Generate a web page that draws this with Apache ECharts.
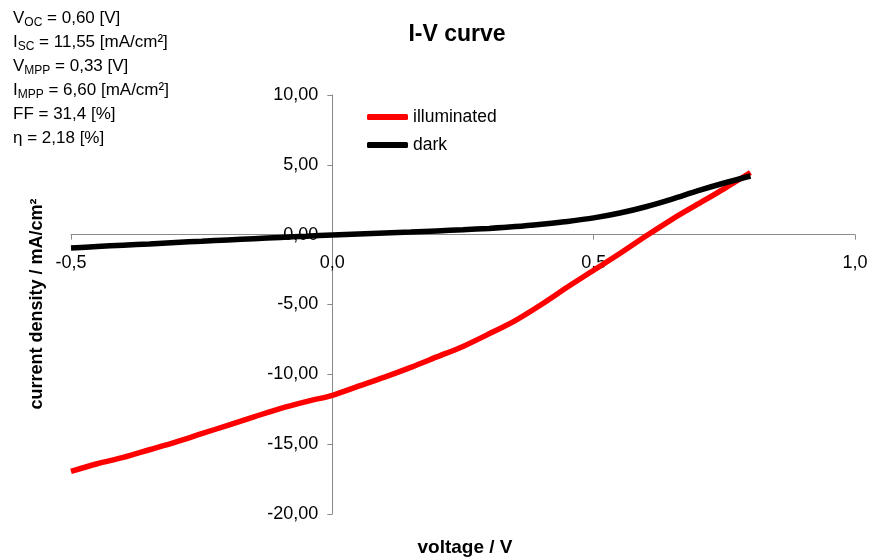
<!DOCTYPE html>
<html>
<head>
<meta charset="utf-8">
<script src="https://cdn.jsdelivr.net/npm/echarts@6/dist/echarts.min.js"></script>
<style>html,body{margin:0;padding:0;background:#fff;}#c{width:871px;height:558px;}</style>
</head>
<body>
<div id="c"></div>
<script>
var voltage = [-0.5,-0.45,-0.4,-0.35,-0.3,-0.25,-0.2,-0.15,-0.1,-0.05,0,0.05,0.1,0.15,0.2,0.25,0.3,0.35,0.4,0.45,0.5,0.55,0.6,0.65,0.7,0.75,0.8];
var illuminated = [-16.95,-16.4,-15.95,-15.4,-14.85,-14.25,-13.65,-13.05,-12.45,-11.95,-11.5,-10.85,-10.2,-9.5,-8.75,-8.0,-7.1,-6.15,-5.0,-3.75,-2.55,-1.35,-0.1,1.1,2.2,3.3,4.45];
var dark = [-0.95,-0.85,-0.75,-0.66,-0.56,-0.47,-0.38,-0.29,-0.2,-0.11,-0.02,0.05,0.12,0.19,0.27,0.35,0.45,0.58,0.75,0.95,1.2,1.55,2.0,2.55,3.15,3.7,4.2];
var xTicks = [-0.5, 0.0, 0.5, 1.0];
var yTicks = [-20, -15, -10, -5, 0, 5, 10];
var seriesNames = ['illuminated', 'dark'];
var annotations = [
  ['V', 'OC', ' = 0,60 [V]'],
  ['I', 'SC', ' = 11,55 [mA/cm²]'],
  ['V', 'MPP', ' = 0,33 [V]'],
  ['I', 'MPP', ' = 6,60 [mA/cm²]'],
  ['FF = 31,4 [%]', '', ''],
  ['η = 2,18 [%]', '', '']
];

function pairs(xs, ys) { return xs.map(function (x, i) { return [x, ys[i]]; }); }

var annText = annotations.map(function (a) {
  var s = '{m|' + a[0] + '}';
  if (a[1]) s += '{s|' + a[1] + '}';
  if (a[2]) s += '{m|' + a[2] + '}';
  return s;
}).join('\n');

var FONT = 'Liberation Sans, Arial, Helvetica, sans-serif';
var GRID = {left: 71, right: 16, top: 95, bottom: 44};
var W = 871, H = 558;
var xMin = xTicks[0], xMax = xTicks[xTicks.length - 1];
var yMin = yTicks[0], yMax = yTicks[yTicks.length - 1];
// offsets that place each axis where the other axis is zero
var gridW = W - GRID.left - GRID.right, gridH = H - GRID.top - GRID.bottom;
var xAxisOffset = -gridH * (0 - yMin) / (yMax - yMin);
var yAxisOffset = -gridW * (0 - xMin) / (xMax - xMin);

var chart = echarts.init(document.getElementById('c'), null, {renderer: 'canvas'});
chart.setOption({
  animation: false,
  backgroundColor: '#ffffff',
  textStyle: {fontFamily: FONT},
  title: {
    text: 'I-V curve', left: 452, top: 18, textAlign: 'center',
    textStyle: {fontFamily: FONT, fontSize: 23, fontWeight: 'bold', color: '#000'}
  },
  grid: {left: GRID.left, right: GRID.right, top: GRID.top, bottom: GRID.bottom, containLabel: false},
  legend: {
    orient: 'vertical', left: 362, top: 103, itemWidth: 41, itemHeight: 6, itemGap: 10,
    icon: 'roundRect',
    data: seriesNames,
    textStyle: {fontFamily: FONT, fontSize: 17.5, color: '#000', lineHeight: 18}
  },
  xAxis: {
    type: 'value', min: xMin, max: xMax, interval: 0.5, position: 'bottom', offset: xAxisOffset,
    axisLine: {onZero: false, lineStyle: {color: '#8a8a8a', width: 1}},
    axisTick: {show: true, length: 5, lineStyle: {color: '#8a8a8a'}},
    axisLabel: {margin: 19, fontSize: 18, color: '#000', fontFamily: FONT,
      formatter: function (v) { return v.toFixed(1).replace('.', ','); }},
    splitLine: {show: false}
  },
  yAxis: {
    type: 'value', min: yMin, max: yMax, interval: 5, position: 'left', offset: yAxisOffset,
    axisLine: {show: true, onZero: false, lineStyle: {color: '#8a8a8a', width: 1}},
    axisTick: {show: true, length: 5, lineStyle: {color: '#8a8a8a'}},
    axisLabel: {margin: 14, fontSize: 18, color: '#000', fontFamily: FONT,
      formatter: function (v) { return v.toFixed(2).replace('.', ','); }},
    splitLine: {show: false}
  },
  series: [
    {name: seriesNames[0], type: 'line', data: pairs(voltage, illuminated), smooth: 0.3, z: 5,
      showSymbol: false, symbol: 'none', lineStyle: {color: '#ff0000', width: 5.5}, itemStyle: {color: '#ff0000'}},
    {name: seriesNames[1], type: 'line', data: pairs(voltage, dark), smooth: 0.3, z: 5,
      showSymbol: false, symbol: 'none', lineStyle: {color: '#000000', width: 5.5}, itemStyle: {color: '#000000'}}
  ],
  graphic: [
    {type: 'text', left: 13, top: 10, style: {
      text: annText, fontFamily: FONT, fill: '#000',
      rich: {
        m: {fontSize: 17, lineHeight: 24, fontFamily: FONT, fill: '#000', verticalAlign: 'middle'},
        s: {fontSize: 12, lineHeight: 12, fontFamily: FONT, fill: '#000', verticalAlign: 'bottom', padding: [0, 0, 2, 0]}
      }
    }},
    {type: 'text', x: 465, y: 548, style: {text: 'voltage / V', fontFamily: FONT, fontSize: 19, fontWeight: 'bold', fill: '#000', align: 'center', verticalAlign: 'middle'}},
    {type: 'text', x: 37, y: 304, rotation: Math.PI / 2, style: {text: 'current density / mA/cm²', fontFamily: FONT, fontSize: 18, fontWeight: 'bold', fill: '#000', align: 'center', verticalAlign: 'middle'}}
  ]
});
</script>
</body>
</html>
